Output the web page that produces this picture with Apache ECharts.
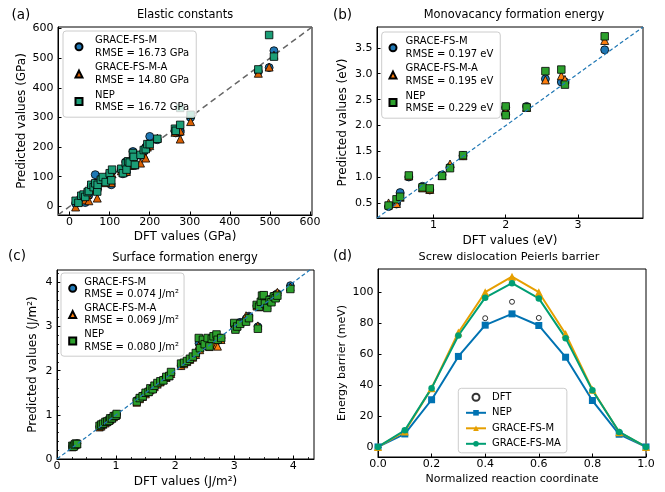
<!DOCTYPE html>
<html><head><meta charset="utf-8">
<script src="https://cdn.jsdelivr.net/npm/echarts@6/dist/echarts.min.js"></script>
<style>html,body{margin:0;padding:0;background:#fff}#c{width:665px;height:492px}</style>
</head><body><div id="c"></div><script>
// ---------- (a) Elastic constants (GPa) ----------
const elasticDFT = [15, 22, 29, 35, 39, 45, 48, 54, 60, 64, 69, 70, 78, 83, 90, 100, 104, 106, 129, 133, 140, 142, 146, 150, 158, 160, 163, 177, 185, 190, 194, 200, 219, 263, 265, 276, 276, 302, 471, 498, 510];
const elasticM   = [10, 20, 30, 28, 13, 42, 38, 70, 62, 107, 55, 75, 88, 95, 85, 110, 73, 118, 125, 110, 150, 115, 150, 140, 185, 165, 138, 172, 185, 200, 205, 236, 225, 255, 248, 256, 250, 300, 455, 468, 525];
const elasticMA  = [-2, 15, 25, 35, 22, 40, 19, 60, 58, 80, 28, 70, 85, 92, 80, 100, 80, 110, 120, 115, 135, 118, 145, 138, 175, 160, 140, 146, 175, 163, 200, 205, 230, 250, 255, 227, 254, 286, 449, 470, 510];
const elasticNEP = [19, 12, 36, 40, 32, 48, 52, 73, 65, 78, 50, 73, 90, 99, 82, 112, 88, 124, 127, 112, 145, 124, 152, 148, 180, 167, 140, 174, 190, 193, 210, 210, 228, 262, 255, 275, 332, 309, 462, 578, 505];
const ticksA = [0, 100, 200, 300, 400, 500, 600];

// ---------- (b) Monovacancy formation energy (eV) ----------
const vacDFT = [0.38, 0.49, 0.54, 0.66, 0.85, 0.95, 1.12, 1.23, 1.41, 2.00, 2.00, 2.29, 2.55, 2.77, 2.82, 3.37];
const vacM   = [0.44, 0.49, 0.71, 1.01, 0.83, 0.76, 1.05, 1.20, 1.42, 2.35, 2.21, 2.37, 2.90, 2.84, 2.84, 3.46];
const vacMA  = [0.51, 0.50, 0.62, 1.03, 0.80, 0.77, 1.04, 1.26, 1.42, 2.30, 2.28, 2.35, 2.88, 2.96, 2.89, 3.64];
const vacNEP = [0.46, 0.58, 0.63, 1.04, 0.81, 0.79, 1.03, 1.18, 1.43, 2.37, 2.20, 2.35, 3.05, 3.08, 2.79, 3.72];
const ticksBx = [1, 2, 3];
const ticksBy = [0.5, 1.0, 1.5, 2.0, 2.5, 3.0, 3.5];

// ---------- (c) Surface formation energy (J/m2) ----------
const surfDFT = [0.26,0.28,0.30,0.32,0.34,
 0.72,0.75,0.78,0.82,0.85,0.88,0.90,0.93,0.96,0.99,1.01,
 1.35,1.40,1.45,1.50,1.55,1.58,1.62,1.65,1.70,1.75,1.80,1.85,1.90,1.93,
 2.10,2.15,2.20,2.25,2.30,2.35,
 2.40,2.42,2.47,2.50,2.55,2.58,2.62,2.65,2.70,2.72,2.78,
 3.00,3.02,3.05,3.10,3.20,3.25,
 3.40,
 3.38,3.42,3.45,3.47,3.50,3.52,3.56,3.60,3.63,3.67,3.70,3.73,
 3.95];
const surfNEP = [0.30,0.28,0.33,0.35,0.34,
 0.75,0.78,0.80,0.84,0.85,0.87,0.92,0.92,0.97,0.98,1.02,
 1.30,1.38,1.42,1.50,1.52,1.60,1.58,1.66,1.72,1.76,1.78,1.86,1.88,1.97,
 2.16,2.18,2.22,2.27,2.32,2.40,
 2.74,2.51,2.70,2.60,2.74,2.55,2.72,2.78,2.82,2.70,2.74,
 3.08,2.93,3.00,3.06,3.11,3.19,
 2.95,
 3.49,3.45,3.56,3.70,3.71,3.52,3.42,3.60,3.55,3.68,3.64,3.70,
 3.85];
const surfM = [0.28,0.30,0.31,0.33,0.35,
 0.73,0.76,0.79,0.82,0.86,0.88,0.91,0.93,0.96,0.99,1.01,
 1.33,1.39,1.44,1.49,1.54,1.58,1.61,1.65,1.70,1.75,1.80,1.85,1.89,1.94,
 2.12,2.16,2.21,2.26,2.31,2.36,
 2.62,2.48,2.63,2.58,2.68,2.56,2.66,2.70,2.75,2.68,2.74,
 3.05,2.98,3.02,3.10,3.18,3.24,
 3.00,
 3.47,3.46,3.52,3.62,3.65,3.55,3.50,3.62,3.60,3.70,3.69,3.75,
 3.93];
const surfMA = [0.27,0.29,0.31,0.33,0.34,
 0.72,0.74,0.78,0.81,0.84,0.87,0.89,0.92,0.95,0.98,1.00,
 1.28,1.36,1.41,1.47,1.52,1.56,1.59,1.63,1.69,1.74,1.79,1.84,1.88,1.93,
 2.11,2.15,2.20,2.25,2.30,2.36,
 2.57,2.47,2.60,2.56,2.62,2.54,2.60,2.62,2.58,2.55,2.70,
 3.04,2.97,3.01,3.08,3.25,3.22,
 3.02,
 3.46,3.44,3.50,3.60,3.62,3.53,3.48,3.60,3.60,3.72,3.67,3.78,
 3.90];
const ticksC = [0, 1, 2, 3, 4];
const minorCx = [0.25,0.5,0.75,1.25,1.5,1.75,2.25,2.5,2.75,3.25,3.5,3.75,4.25];
const minorCy = [0.2,0.4,0.6,0.8,1.2,1.4,1.6,1.8,2.2,2.4,2.6,2.8,3.2,3.4,3.6,3.8,4.2];

// ---------- (d) Screw dislocation Peierls barrier (meV) ----------
const coord     = [0.0, 0.1, 0.2, 0.3, 0.4, 0.5, 0.6, 0.7, 0.8, 0.9, 1.0];
const barNEP    = [0, 8.4, 30.5, 58.5, 78.7, 86, 78.5, 58, 30, 8.2, 0];
const barM      = [0, 10, 38, 74, 100, 110, 100, 73, 37, 9.5, 0];
const barMA     = [0, 10.8, 38, 72, 96.5, 105.8, 96, 70.3, 36.6, 9.7, 0];
const dftCoord  = [0.4, 0.5, 0.6];
const dftBar    = [83.2, 93.8, 83.4];
const ticksDx = [0, 0.2, 0.4, 0.6, 0.8, 1.0];
const ticksDy = [0, 20, 40, 60, 80, 100];

const FONT = 'DejaVu Sans';
const zip = (xs, ys) => xs.map((x, i) => [x, ys[i]]);

const nA = ['GRACE-FS-M\nRMSE = 16.73 GPa', 'GRACE-FS-M-A\nRMSE = 14.80 GPa', 'NEP\nRMSE = 16.72 GPa'];
const nB = ['GRACE-FS-M\nRMSE = 0.197 eV', 'GRACE-FS-M-A\nRMSE = 0.195 eV', 'NEP\nRMSE = 0.229 eV'];
const nC = ['GRACE-FS-M\nRMSE = 0.074 J/m²', 'GRACE-FS-M-A\nRMSE = 0.069 J/m²', 'NEP\nRMSE = 0.080 J/m²'];
const nD = ['DFT', 'NEP', 'GRACE-FS-M', 'GRACE-FS-MA'];

const rangeA = [-29, 605], rangeB = [0.22, 3.9], rangeCx = [0, 4.35], rangeCy = [0, 4.28];

function axis(gi, pos, min, max, ticks, fmt, name, gap, nameSize, margin) {
  return {
    type: 'value', gridIndex: gi, position: pos, min: min, max: max,
    splitLine: {show: false},
    axisLine: {show: true, onZero: false, lineStyle: {color: '#000', width: 1}},
    axisTick: {show: true, inside: true, length: 3.5, customValues: ticks, lineStyle: {color: '#000', width: 1}},
    axisLabel: {customValues: ticks, formatter: fmt, fontSize: 11, fontFamily: FONT, color: '#000', margin: margin},
    name: name, nameLocation: 'middle', nameGap: gap,
    nameTextStyle: {fontSize: nameSize, fontFamily: FONT, color: '#000'}
  };
}
function minorAxis(gi, pos, min, max, ticks) {
  return {
    type: 'value', gridIndex: gi, position: pos, min: min, max: max,
    splitLine: {show: false}, axisLine: {show: false},
    axisTick: {show: true, inside: true, length: 2, customValues: ticks, lineStyle: {color: '#000', width: 0.8}},
    axisLabel: {show: false}
  };
}
const fInt = v => String(Math.round(v));
const f1 = v => v.toFixed(1);

function scat(name, xi, data, symbol, color, size) {
  return {type: 'scatter', name: name, xAxisIndex: xi, yAxisIndex: xi, data: data, symbol: symbol,
    symbolSize: size, itemStyle: {color: color, borderColor: '#000', borderWidth: 0.8, opacity: 1}, z: 3};
}
function diag(xi, r, color, width, dash) {
  return {type: 'line', xAxisIndex: xi, yAxisIndex: xi, data: [[r[0], r[0]], [r[1], r[1]]], symbol: 'none',
    silent: true, lineStyle: {color: color, width: width, type: dash}, z: 2};
}
function legend(left, top, names, iw, ih, pad, gap, lh, textPad) {
  return {show: true, orient: 'vertical', left: left, top: top, data: names, itemWidth: iw, itemHeight: ih,
    itemGap: gap, padding: pad, backgroundColor: 'rgba(255,255,255,0.8)', borderColor: '#cccccc',
    borderWidth: 1, borderRadius: 3, selectedMode: false,
    textStyle: {fontSize: 10, lineHeight: lh, fontFamily: FONT, color: '#000', padding: [0, 0, 0, textPad]}};
}
function txt(x, y, s, size, align) {
  return {type: 'text', x: x, y: y, silent: true,
    style: {text: s, fontSize: size, fontFamily: FONT, fill: '#000', textAlign: align, textVerticalAlign: 'middle',
      align: align, verticalAlign: 'middle'}};
}

const option = {
  animation: false,
  backgroundColor: '#fff',
  grid: [
    {left: 58, top: 27, width: 254, height: 188},
    {left: 377, top: 27, width: 266, height: 191},
    {left: 57, top: 270, width: 257, height: 189},
    {left: 378, top: 269, width: 268, height: 188}
  ].map(g => Object.assign({show: true, borderColor: '#000', borderWidth: 1, backgroundColor: 'transparent'}, g)),
  xAxis: [
    axis(0, 'bottom', rangeA[0], rangeA[1], ticksA, fInt, 'DFT values (GPa)', 16, 12, 2),
    axis(1, 'bottom', rangeB[0], rangeB[1], ticksBx, fInt, 'DFT values (eV)', 17, 12, 2),
    axis(2, 'bottom', rangeCx[0], rangeCx[1], ticksC, fInt, 'DFT values (J/m²)', 17, 12, 2),
    axis(3, 'bottom', 0, 1, ticksDx, f1, 'Normalized reaction coordinate', 17, 11, 2),
    minorAxis(2, 'bottom', rangeCx[0], rangeCx[1], minorCx)
  ],
  yAxis: [
    axis(0, 'left', rangeA[0], rangeA[1], ticksA, fInt, 'Predicted values (GPa)', 30, 12, 4.5),
    axis(1, 'left', rangeB[0], rangeB[1], ticksBy, f1, 'Predicted values (eV)', 28, 12, 4.5),
    axis(2, 'left', rangeCy[0], rangeCy[1], ticksC, fInt, 'Predicted values (J/m²)', 18, 12, 4.5),
    axis(3, 'left', -6.5, 115, ticksDy, fInt, 'Energy barrier (meV)', 30, 11, 4.5),
    minorAxis(2, 'left', rangeCy[0], rangeCy[1], minorCy)
  ],
  legend: [
    legend(63, 31, nA, 7, 7, [3, 7, 3, 11.5], 2, 12.7, 7.5),
    legend(381.7, 32, nB, 7, 7, [3, 7, 3, 6.8], 2, 12.7, 4),
    legend(61, 273, nC, 7, 7, [3, 5, 3, 7.2], 2, 12.2, 3),
    legend(458.3, 388.3, nD, 20, 7, [3, 6, 3, 6.7], 3.5, 12, 1)
  ],
  graphic: [
    txt(185, 15, 'Elastic constants', 11.4, 'center'),
    txt(11.5, 15, '(a)', 13.5, 'left'),
    txt(514, 15, 'Monovacancy formation energy', 11.4, 'center'),
    txt(333, 15, '(b)', 13.5, 'left'),
    txt(185, 258, 'Surface formation energy', 11.4, 'center'),
    txt(8, 256.5, '(c)', 13.5, 'left'),
    txt(509, 257, 'Screw dislocation Peierls barrier', 11.3, 'center'),
    txt(333, 256, '(d)', 13.5, 'left')
  ],
  series: [
    diag(0, rangeA, '#666666', 1.5, [6, 4]),
    scat(nA[0], 0, zip(elasticDFT, elasticM), 'circle', '#1f77b4', 8),
    scat(nA[1], 0, zip(elasticDFT, elasticMA), 'triangle', '#d95f02', 8),
    scat(nA[2], 0, zip(elasticDFT, elasticNEP), 'rect', '#1b9e77', 7.5),

    scat(nB[0], 1, zip(vacDFT, vacM), 'circle', '#1f77b4', 8),
    scat(nB[1], 1, zip(vacDFT, vacMA), 'triangle', '#ff7f0e', 8),
    scat(nB[2], 1, zip(vacDFT, vacNEP), 'rect', '#2ca02c', 7.5),
    Object.assign(diag(1, rangeB, '#1f77b4', 1.2, [4, 2.5]), {z: 4}),

    scat(nC[0], 2, zip(surfDFT, surfM), 'circle', '#1f77b4', 7.5),
    scat(nC[1], 2, zip(surfDFT, surfMA), 'triangle', '#ff7f0e', 7.5),
    scat(nC[2], 2, zip(surfDFT, surfNEP), 'rect', '#2ca02c', 7.5),
    Object.assign(diag(2, [0, 4.35], '#1f77b4', 1.2, [4, 2.5]), {z: 4}),

    {type: 'scatter', name: nD[0], xAxisIndex: 3, yAxisIndex: 3, data: zip(dftCoord, dftBar), symbol: 'circle',
      symbolSize: 5, itemStyle: {color: '#fff', borderColor: '#000', borderWidth: 1}, z: 2},
    {type: 'line', name: nD[1], xAxisIndex: 3, yAxisIndex: 3, data: zip(coord, barNEP), symbol: 'rect', symbolSize: 7,
      color: '#0072b2', itemStyle: {color: '#0072b2'}, lineStyle: {color: '#0072b2', width: 2}, z: 3},
    {type: 'line', name: nD[2], xAxisIndex: 3, yAxisIndex: 3, data: zip(coord, barM), symbol: 'triangle', symbolSize: 8,
      color: '#e69f00', itemStyle: {color: '#e69f00'}, lineStyle: {color: '#e69f00', width: 2}, z: 3},
    {type: 'line', name: nD[3], xAxisIndex: 3, yAxisIndex: 3, data: zip(coord, barMA), symbol: 'circle', symbolSize: 6.5,
      color: '#009e73', itemStyle: {color: '#009e73'}, lineStyle: {color: '#009e73', width: 2}, z: 3}
  ]
};
const chart = echarts.init(document.getElementById('c'), null, {renderer: 'canvas'});
chart.setOption(option);
</script></body></html>
